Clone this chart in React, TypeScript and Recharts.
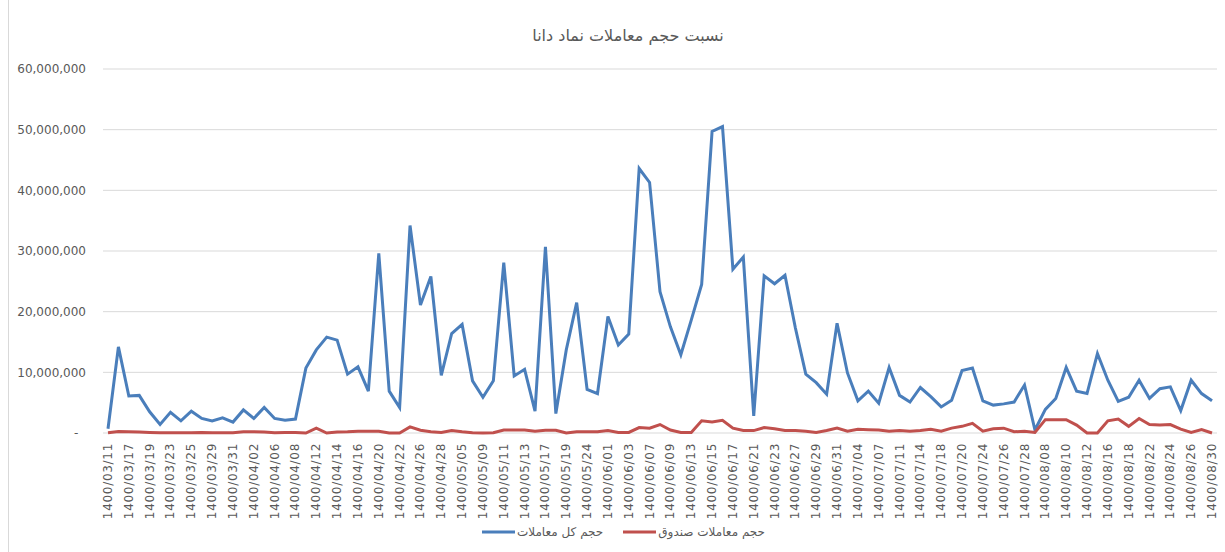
import { LineChart, Line, XAxis, YAxis, CartesianGrid, Legend } from 'recharts';

const FONT = '"DejaVu Sans", sans-serif';
const TEXT_COLOR = '#595959';

// trading days (only every other one gets a label on the axis)
const dates = [
  '1400/03/11', '1400/03/16', '1400/03/17', '1400/03/18', '1400/03/19', '1400/03/22', '1400/03/23', '1400/03/24',
  '1400/03/25', '1400/03/26', '1400/03/29', '1400/03/30', '1400/03/31', '1400/04/01', '1400/04/02', '1400/04/05',
  '1400/04/06', '1400/04/07', '1400/04/08', '1400/04/09', '1400/04/12', '1400/04/13', '1400/04/14', '1400/04/15',
  '1400/04/16', '1400/04/19', '1400/04/20', '1400/04/21', '1400/04/22', '1400/04/23', '1400/04/26', '1400/04/27',
  '1400/04/28', '1400/05/03', '1400/05/05', '1400/05/06', '1400/05/09', '1400/05/10', '1400/05/11', '1400/05/12',
  '1400/05/13', '1400/05/16', '1400/05/17', '1400/05/18', '1400/05/19', '1400/05/23', '1400/05/24', '1400/05/25',
  '1400/06/01', '1400/06/02', '1400/06/03', '1400/06/06', '1400/06/07', '1400/06/08', '1400/06/09', '1400/06/10',
  '1400/06/13', '1400/06/14', '1400/06/15', '1400/06/16', '1400/06/17', '1400/06/20', '1400/06/21', '1400/06/22',
  '1400/06/23', '1400/06/24', '1400/06/27', '1400/06/28', '1400/06/29', '1400/06/30', '1400/06/31', '1400/07/03',
  '1400/07/04', '1400/07/05', '1400/07/07', '1400/07/10', '1400/07/11', '1400/07/12', '1400/07/14', '1400/07/17',
  '1400/07/18', '1400/07/19', '1400/07/20', '1400/07/21', '1400/07/24', '1400/07/25', '1400/07/26', '1400/07/27',
  '1400/07/28', '1400/08/01', '1400/08/08', '1400/08/09', '1400/08/10', '1400/08/11', '1400/08/12', '1400/08/15',
  '1400/08/16', '1400/08/17', '1400/08/18', '1400/08/19', '1400/08/22', '1400/08/23', '1400/08/24', '1400/08/25',
  '1400/08/26', '1400/08/29', '1400/08/30',
];

// حجم کل معاملات
const totalVolume = [
  700000, 14200000, 6100000, 6200000, 3500000, 1400000, 3400000, 2000000,
  3600000, 2400000, 2000000, 2500000, 1800000, 3800000, 2400000, 4200000,
  2400000, 2100000, 2300000, 10700000, 13700000, 15800000, 15300000, 9700000,
  10900000, 6900000, 29600000, 6900000, 4200000, 34200000, 21100000, 25800000,
  9500000, 16400000, 17900000, 8600000, 5900000, 8600000, 28100000, 9400000,
  10500000, 3600000, 30700000, 3200000, 13700000, 21500000, 7200000, 6500000,
  19200000, 14500000, 16300000, 43600000, 41300000, 23300000, 17500000, 12900000,
  18600000, 24500000, 49700000, 50500000, 27000000, 29000000, 2800000, 25900000,
  24600000, 26000000, 17300000, 9700000, 8300000, 6400000, 18100000, 9900000,
  5300000, 6900000, 4900000, 10800000, 6200000, 5100000, 7500000, 6000000,
  4300000, 5400000, 10300000, 10700000, 5300000, 4600000, 4800000, 5100000,
  7900000, 500000, 3900000, 5700000, 10800000, 6900000, 6500000, 13100000,
  8700000, 5200000, 5900000, 8700000, 5700000, 7300000, 7600000, 3700000,
  8700000, 6500000, 5300000,
];

// حجم معاملات صندوق
const fundVolume = [
  50000, 250000, 200000, 150000, 100000, 50000, 50000, 50000,
  50000, 100000, 50000, 50000, 50000, 200000, 200000, 150000,
  50000, 100000, 100000, 0, 800000, 0, 150000, 200000,
  300000, 300000, 300000, 0, 0, 1000000, 450000, 200000,
  100000, 400000, 200000, 50000, 0, 50000, 500000, 500000,
  500000, 300000, 450000, 450000, 0, 200000, 200000, 200000,
  400000, 100000, 100000, 900000, 800000, 1400000, 500000, 100000,
  100000, 2000000, 1800000, 2100000, 800000, 400000, 400000, 900000,
  700000, 400000, 400000, 300000, 100000, 400000, 800000, 300000,
  600000, 550000, 500000, 300000, 400000, 300000, 400000, 600000,
  300000, 800000, 1100000, 1600000, 300000, 700000, 800000, 200000,
  300000, 100000, 2200000, 2200000, 2200000, 1300000, 0, 0,
  2000000, 2300000, 1100000, 2400000, 1400000, 1300000, 1400000, 650000,
  100000, 550000, 0,
];

const yTicks = [0, 10000000, 20000000, 30000000, 40000000, 50000000, 60000000];

const chartTitle = 'نسبت حجم معاملات نماد دانا';
const totalName = 'حجم کل معاملات';
const fundName = 'حجم معاملات صندوق';
const legendOrder = [totalName, fundName];

const data = dates.map((date, i) => ({
  date,
  total: totalVolume[i],
  fund: fundVolume[i],
}));

// Excel accounting style: zero is shown as a dash
function formatVolume(value: number) {
  if (value === 0) return '-\u00a0\u00a0';
  return value.toLocaleString('en-US');
}

function DateTick({ x, y, payload }: { x?: number; y?: number; payload?: { value: string } }) {
  return (
    <text
      transform={`translate(${x},${(y ?? 0) + 2}) rotate(-90)`}
      textAnchor="end"
      dominantBaseline="central"
      fontFamily={FONT}
      fontSize={12}
      letterSpacing={0.7}
      fill={TEXT_COLOR}
    >
      {payload?.value}
    </text>
  );
}

interface LegendEntry {
  value: string;
  color: string;
}

function LegendContent({ payload }: { payload?: LegendEntry[] }) {
  // keep series order (blue first), recharts sorts legend items by name otherwise
  const items = [...(payload ?? [])].sort(
    (a, b) => legendOrder.indexOf(a.value) - legendOrder.indexOf(b.value)
  );
  return (
    <div
      style={{
        display: 'flex',
        justifyContent: 'center',
        alignItems: 'center',
        height: 22,
        paddingLeft: 30,
        fontFamily: FONT,
        fontSize: 12,
        color: TEXT_COLOR,
      }}
    >
      {items.map((entry) => (
        <div key={entry.value} style={{ display: 'flex', alignItems: 'center', margin: '0 10px' }}>
          <svg width={33} height={6}>
            <line x1={0} y1={3} x2={33} y2={3} stroke={entry.color} strokeWidth={3} />
          </svg>
          <span dir="rtl" style={{ marginLeft: 2 }}>{entry.value}</span>
        </div>
      ))}
    </div>
  );
}

export default function App() {
  return (
    <div style={{ position: 'absolute', left: 0, top: 0, width: 1225, height: 552, background: '#fff' }}>
      {/* chart frame edge */}
      <div style={{ position: 'absolute', left: 8, top: 0, width: 1, height: 552, background: '#d9d9d9' }} />
      <div
        dir="rtl"
        style={{
          position: 'absolute',
          top: 24,
          left: 0,
          width: 1256,
          textAlign: 'center',
          fontFamily: FONT,
          fontSize: 16,
          color: TEXT_COLOR,
          lineHeight: '24px',
        }}
      >
        {chartTitle}
      </div>
      <LineChart width={1225} height={552} data={data} margin={{ top: 69, right: 8, left: 0, bottom: 9 }}>
        <CartesianGrid vertical={false} stroke="#d9d9d9" strokeWidth={1} />
        <XAxis
          dataKey="date"
          interval={1}
          tick={<DateTick />}
          tickLine={false}
          axisLine={false}
          height={88}
          padding={{ left: 5, right: 5 }}
        />
        <YAxis
          width={103}
          domain={[0, 60000000]}
          ticks={yTicks}
          tickFormatter={formatVolume}
          tickLine={false}
          axisLine={false}
          tickMargin={11}
          tick={{ fontFamily: FONT, fontSize: 12, fill: TEXT_COLOR }}
        />
        <Legend verticalAlign="bottom" height={22} content={<LegendContent />} />
        <Line
          type="linear"
          dataKey="total"
          name={totalName}
          stroke="#4a7ebb"
          strokeWidth={3}
          dot={false}
          isAnimationActive={false}
        />
        <Line
          type="linear"
          dataKey="fund"
          name={fundName}
          stroke="#c0504d"
          strokeWidth={3}
          dot={false}
          isAnimationActive={false}
        />
      </LineChart>
    </div>
  );
}
